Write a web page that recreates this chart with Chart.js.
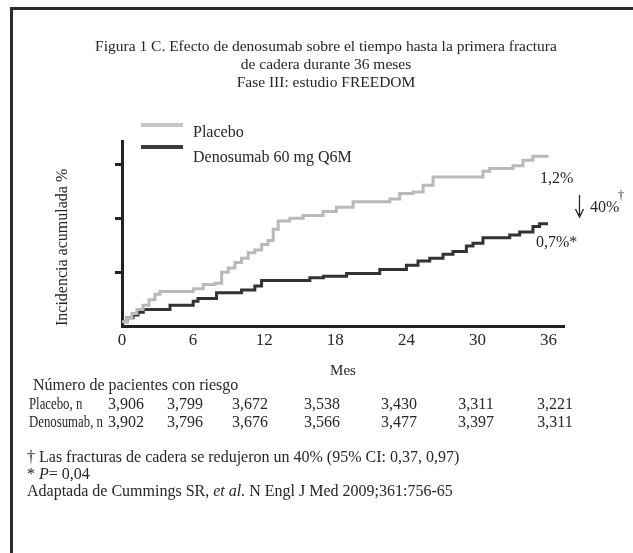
<!DOCTYPE html>
<html>
<head>
<meta charset="utf-8">
<script src="https://cdn.jsdelivr.net/npm/chart.js@4.4.1/dist/chart.umd.min.js"></script>
<style>
  html, body { margin: 0; padding: 0; background: #fff; }
  #wrap { position: relative; width: 633px; height: 553px; overflow: hidden; }
  #frame {
    position: absolute; left: 10px; top: 7px; width: 640px; height: 560px;
    border-top: 3px solid #2b2b2b; border-left: 3px solid #2b2b2b;
  }
  canvas { position: absolute; left: 0; top: 0; }
</style>
</head>
<body>
<div id="wrap">
  <div id="frame"></div>
  <canvas id="km" width="633" height="553"></canvas>
</div>
<script>
//Kaplan-Meier style cumulative incidence of hip fracture, FREEDOM trial.
//Step curves; everything else is text
//painted around the chart by a small plugin.

const titleLines = [
    'Figura 1 C. Efecto de denosumab sobre el tiempo hasta la primera fractura',
    'de cadera durante 36 meses',
    'Fase III: estudio FREEDOM',
];

//month at which the curve steps up, and the cumulative % after the step
const placeboMonths = [0, 0.42, 0.84, 1.26, 1.77, 2.28, 2.78, 3.20, 6.01, 6.86, 7.84, 8.41, 8.96, 9.53,
    10.09, 10.65, 11.21, 11.78, 12.31, 12.76, 13.18, 14.17, 15.29, 16.97, 18.10, 19.50, 22.60, 23.44,
    24.56, 25.41, 26.25, 30.46, 31.03, 33.0, 33.84, 34.68, 36.0];
const placeboValues = [0, 0.03, 0.06, 0.09, 0.12, 0.16, 0.20, 0.22, 0.24, 0.27, 0.28, 0.36, 0.39, 0.43,
    0.46, 0.50, 0.52, 0.56, 0.59, 0.67, 0.73, 0.75, 0.77, 0.80, 0.83, 0.87, 0.89, 0.93,
    0.94, 0.99, 1.05, 1.09, 1.11, 1.13, 1.17, 1.20, 1.20];

const denosumabMonths = [0, 0.42, 0.93, 1.35, 1.80, 4.05, 6.01, 6.41, 7.98, 10.09, 11.21, 11.78, 15.85,
    17.0, 18.95, 21.75, 24.0, 24.98, 25.97, 27.09, 27.93, 29.06, 29.62, 30.46, 32.72, 33.56, 34.68,
    35.24, 35.95];
const denosumabValues = [0, 0.03, 0.05, 0.07, 0.09, 0.12, 0.15, 0.17, 0.21, 0.23, 0.26, 0.30, 0.32,
    0.33, 0.35, 0.38, 0.41, 0.44, 0.46, 0.49, 0.51, 0.55, 0.57, 0.61, 0.63, 0.65, 0.69,
    0.71, 0.71];

const xTicks = [0, 6, 12, 18, 24, 30, 36];
const yTicks = [0.36, 0.75, 1.14];      //unlabelled tick marks on the printed axis

const atRiskPlacebo   = [3906, 3799, 3672, 3538, 3430, 3311, 3221];
const atRiskDenosumab = [3902, 3796, 3676, 3566, 3477, 3397, 3311];

const SERIF = "'Liberation Serif', 'Times New Roman', serif";
const INK = '#262626';

const font = (size, italic) => (italic ? 'italic ' : '') + size + 'px ' + SERIF;
const fmtN = (n) => n.toLocaleString('en-US');

function toPoints(xs, ys)
{
    return xs.map((x, i) => ({ x, y: ys[i] }));
}

//draw a line made of [text, italic] runs starting at x
function drawRuns(ctx, x, y, runs, size)
{
    let cx = x;
    runs.forEach(([text, italic]) =>
    {
        ctx.font = font(size, italic);
        ctx.fillText(text, cx, y);
        cx += ctx.measureText(text).width;
    });
}

function drawCondensed(ctx, text, x, y, squeeze)
{
    ctx.save();
    ctx.translate(x, y);
    ctx.scale(squeeze, 1);
    ctx.fillText(text, 0, 0);
    ctx.restore();
}

const figureText = {
    id: 'figure-text',
    afterDraw(chart)
    {
        const ctx = chart.ctx;
        ctx.save();
        ctx.fillStyle = INK;
        ctx.textBaseline = 'alphabetic';

        //heading
        ctx.textAlign = 'center';
        ctx.font = font(15.5);
        titleLines.forEach((t, i) => ctx.fillText(t, 326, 51 + i * 18));

        //legend, top-left of the plot
        ctx.textAlign = 'left';
        const legendRows = [[125, 137], [147, 162]];
        chart.data.datasets.forEach((ds, i) =>
        {
            const [lineY, textY] = legendRows[i];
            ctx.strokeStyle = ds.legendColor;
            ctx.lineWidth = 4;
            ctx.beginPath();
            ctx.moveTo(141, lineY);
            ctx.lineTo(183, lineY);
            ctx.stroke();
            ctx.font = font(16);
            ctx.fillText(ds.label, 193, textY);
        });

        //end-of-curve labels and the reduction arrow
        ctx.font = font(16);
        ctx.fillText('1,2%', 540, 183);
        ctx.fillText('0,7%*', 536, 247);
        ctx.fillText('40%', 590, 212);
        ctx.font = font(12);
        ctx.fillText('†', 618, 199);
        ctx.strokeStyle = INK;
        ctx.lineWidth = 1.3;
        ctx.beginPath();
        ctx.moveTo(579.5, 195);
        ctx.lineTo(579.5, 216);
        ctx.moveTo(575.5, 209);
        ctx.lineTo(579.5, 217);
        ctx.lineTo(583.5, 209);
        ctx.stroke();

        //patients at risk
        ctx.font = font(16);
        ctx.fillText('Número de pacientes con riesgo', 33, 390);
        const cols = [126, 185, 250, 322, 399, 476, 555];
        const rows = [['Placebo, n', atRiskPlacebo, 409], ['Denosumab, n', atRiskDenosumab, 427]];
        rows.forEach(([label, counts, y]) =>
        {
            ctx.textAlign = 'left';
            ctx.font = font(16);
            drawCondensed(ctx, label, 29, y, 0.8);
            ctx.textAlign = 'center';
            counts.forEach((n, i) => ctx.fillText(fmtN(n), cols[i], y));
        });

        //footnotes
        ctx.textAlign = 'left';
        drawRuns(ctx, 27, 462, [['† Las fracturas de cadera se redujeron un 40% (95% CI: 0,37, 0,97)', false]], 16);
        drawRuns(ctx, 27, 479, [['* ', false], ['P', true], ['= 0,04', false]], 16);
        drawRuns(ctx, 27, 496, [['Adaptada de Cummings SR, ', false], ['et al.', true],
            [' N Engl J Med 2009;361:756-65', false]], 16);

        ctx.restore();
    },
};

new Chart(document.getElementById('km'), {
    type: 'line',
    data: {
        datasets: [
            {
                label: 'Placebo',
                data: toPoints(placeboMonths, placeboValues),
                borderColor: '#b9b9b9',
                legendColor: '#c6c6c6',
                borderWidth: 3,
                stepped: 'before',
                pointRadius: 0,
            },
            {
                label: 'Denosumab 60 mg Q6M',
                data: toPoints(denosumabMonths, denosumabValues),
                borderColor: '#333333',
                legendColor: '#3a3a3a',
                borderWidth: 3,
                stepped: 'before',
                pointRadius: 0,
            },
        ],
    },
    options: {
        responsive: false,
        devicePixelRatio: 1,
        animation: false,
        layout: { padding: { left: 40, top: 141, right: 69, bottom: 173 } },
        plugins: {
            legend: { display: false },
            title: { display: false },
            tooltip: { enabled: false },
        },
        scales: {
            x: {
                type: 'linear',
                min: 0,
                max: 37.3,
                afterBuildTicks: (axis) => { axis.ticks = xTicks.map((v) => ({ value: v })); },
                afterFit: (axis) => { axis.height = 54; },
                ticks: { color: INK, font: { family: SERIF, size: 17 }, padding: 4, maxRotation: 0, autoSkip: false },
                grid: { display: false, drawTicks: false, tickLength: 0 },
                border: { color: '#222', width: 3 },
                title: { display: true, text: 'Mes', color: INK, font: { family: SERIF, size: 15 }, padding: 0 },
            },
            y: {
                type: 'linear',
                min: -0.03,
                max: 1.31,
                afterBuildTicks: (axis) => { axis.ticks = yTicks.map((v) => ({ value: v })); },
                afterFit: (axis) => { axis.width = 82; },
                ticks: { display: false },
                grid: { drawOnChartArea: false, drawTicks: true, tickLength: 7, tickWidth: 3, tickColor: '#222' },
                border: { color: '#222', width: 3 },
                title: {
                    display: true, text: 'Incidencia acumulada %', align: 'start', color: INK,
                    font: { family: SERIF, size: 16 }, padding: { top: 13, bottom: 0 },
                },
            },
        },
    },
    plugins: [figureText],
});
</script>
</body>
</html>
